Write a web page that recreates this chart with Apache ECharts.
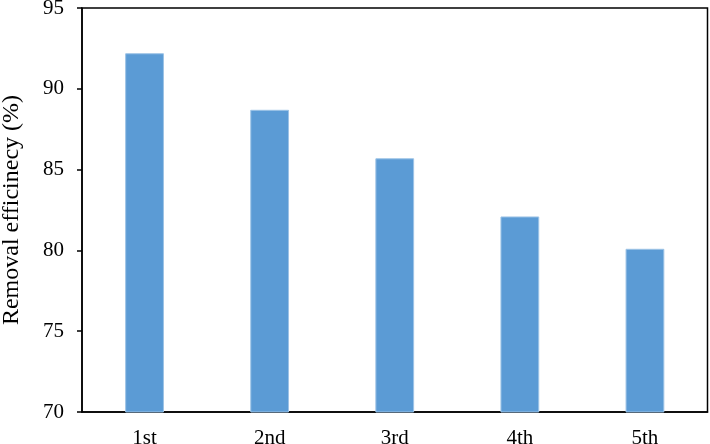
<!DOCTYPE html>
<html>
<head>
<meta charset="utf-8">
<script src="https://cdn.jsdelivr.net/npm/echarts@6/dist/echarts.min.js"></script>
<style>
  html, body { margin: 0; padding: 0; background: #fff; }
  #chart { width: 710px; height: 444px; }
</style>
</head>
<body>
<div id="chart"></div>
<script>
const cycles = ['1st', '2nd', '3rd', '4th', '5th'];
const efficiency = [92.2, 88.7, 85.7, 82.1, 80.1];
const yTicks = { min: 70, max: 95, step: 5 };

const chart = echarts.init(document.getElementById('chart'));
const font = '"Liberation Serif", "Times New Roman", serif';

chart.setOption({
    animation: false,
    grid: {
        left: 82,
        right: 2.5,
        top: 8,
        bottom: 32,
        outerBoundsMode: 'none',
        show: true,
        borderColor: '#000',
        borderWidth: 1.5
    },
    xAxis: {
        type: 'category',
        data: cycles,
        axisLine: { lineStyle: { color: '#000', width: 1.5 } },
        axisTick: { show: false },
        axisLabel: { color: '#000', fontFamily: font, fontSize: 21, margin: 16 }
    },
    yAxis: {
        type: 'value',
        min: yTicks.min,
        max: yTicks.max,
        interval: yTicks.step,
        name: 'Removal efficinecy (%)',
        nameLocation: 'middle',
        nameGap: 58,
        nameTextStyle: { color: '#000', fontFamily: font, fontSize: 24 },
        axisLine: { show: true, lineStyle: { color: '#000', width: 1.5 } },
        axisTick: { show: true, length: 5, lineStyle: { color: '#000', width: 1.5 } },
        splitLine: { show: false },
        axisLabel: { color: '#000', fontFamily: font, fontSize: 21, margin: 18 }
    },
    series: [{
        type: 'bar',
        data: efficiency,
        barWidth: '31%',
        itemStyle: { color: '#5B9BD5', borderColor: '#9DC3E6', borderWidth: 1 }
    }]
});
</script>
</body>
</html>
